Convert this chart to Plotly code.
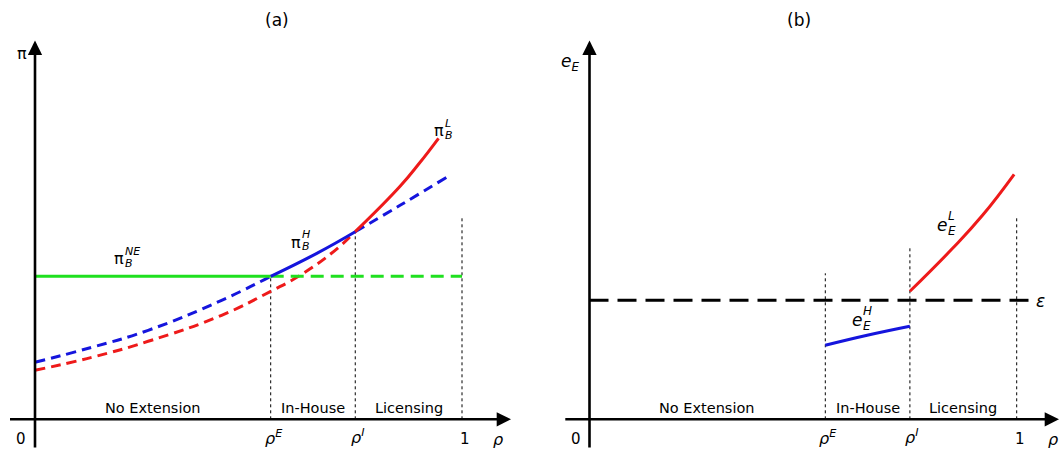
import plotly.graph_objects as go

# ---------------- data ----------------
rho_E = 0.552
rho_I = 0.75

# panel (a): profits of the incumbent
piH_x = [0.0, 0.133, 0.265, 0.437, 0.552, 0.66, 0.75, 0.855, 0.964]
piH_y = [0.57, 0.72, 0.89, 1.19, 1.43, 1.66, 1.876, 2.14, 2.42]
piL_x = [0.0, 0.133, 0.265, 0.437, 0.552, 0.617, 0.70, 0.75, 0.855, 0.90, 0.945]
piL_y = [0.49, 0.62, 0.78, 1.04, 1.28, 1.43, 1.68, 1.876, 2.33, 2.56, 2.81]
piNE_x = [0.0, 0.552, 1.0]
piNE_y = [1.43, 1.43, 1.43]

# panel (b): entrant effort
eps_x = [0.0, 1.03]
eps_y = [1.19, 1.19]
eH_x = [0.552, 0.65, 0.75]
eH_y = [0.74, 0.84, 0.93]
eL_x = [0.75, 0.85, 0.92, 0.994]
eL_y = [1.28, 1.71, 2.04, 2.45]

# vertical guides at rho_E, rho_I, 1
guide_x = [rho_E, rho_I, 1.0]
guide_top_a = [1.43, 1.88, 2.01]
guide_top_b = [1.46, 1.73, 2.01]

regions = ["No Extension", "In-House", "Licensing"]
region_bounds = [0.0, rho_E, rho_I, 1.0]

# ---------------- styling ----------------
GREEN = "#1fe01f"
BLUE = "#1515dd"
RED = "#ee1a1a"
FONT = "DejaVu Sans"
LW = 3


def Y(py):
    return (419.3 - py) / 100.0


def XA(px):
    return (px - 35) / 427.0


def XB(px):
    return (px - 589.5) / 427.2


def seg(xs, ys, lo, hi):
    pts = [(x, y) for x, y in zip(xs, ys) if lo - 1e-9 <= x <= hi + 1e-9]
    return [p[0] for p in pts], [p[1] for p in pts]


fig = go.Figure()


def add_line(xs, ys, color, dash, panel, width=LW, shape="spline"):
    xa, ya = ("x", "y") if panel == "a" else ("x2", "y2")
    fig.add_trace(go.Scatter(x=xs, y=ys, mode="lines", xaxis=xa, yaxis=ya,
                             line=dict(color=color, width=width, dash=dash, shape=shape,
                                       smoothing=1.3),
                             hoverinfo="skip", showlegend=False))


# guides
for gx, ta, tb in zip(guide_x, guide_top_a, guide_top_b):
    add_line([gx, gx], [0, ta], "black", "dot", "a", width=1, shape="linear")
    add_line([gx, gx], [0, tb], "black", "dot", "b", width=1, shape="linear")

# panel (a) dashed parts
x, y = seg(piL_x, piL_y, 0, rho_I)
add_line(x, y, RED, "10px,6px", "a")
x, y = seg(piH_x, piH_y, 0, rho_E)
add_line(x, y, BLUE, "10px,6px", "a")
x, y = seg(piH_x, piH_y, rho_I, 1.0)
add_line(x, y, BLUE, "10px,6px", "a")
x, y = seg(piNE_x, piNE_y, rho_E, 1.0)
add_line(x, y, GREEN, "13px,7px", "a", shape="linear")
# panel (a) solid parts
x, y = seg(piNE_x, piNE_y, 0, rho_E)
add_line(x, y, GREEN, "solid", "a", shape="linear")
x, y = seg(piH_x, piH_y, rho_E, rho_I)
add_line(x, y, BLUE, "solid", "a")
x, y = seg(piL_x, piL_y, rho_I, 1.0)
add_line(x, y, RED, "solid", "a")

# panel (b)
add_line(eps_x, eps_y, "black", "19px,9px", "b", shape="linear")
add_line(eH_x, eH_y, BLUE, "solid", "b")
add_line(eL_x, eL_y, RED, "solid", "b")

ann = []


def arrow(xr, yr, x0, y0, x1, y1):
    ann.append(dict(x=x1, y=y1, ax=x0, ay=y0, xref=xr, yref=yr, axref=xr, ayref=yr,
                    text="", showarrow=True, arrowhead=2, arrowsize=1.1, arrowwidth=2.6,
                    arrowcolor="black", standoff=0, startstandoff=0))


def text(xr, yr, x, y, t, size=14, xanchor="center", xshift=0, yshift=0):
    ann.append(dict(x=x, y=y, xref=xr, yref=yr, text=t, showarrow=False,
                    font=dict(family=FONT, size=size, color="black"),
                    xanchor=xanchor, yanchor="middle", xshift=xshift, yshift=yshift))


def scripted(xr, yr, x, y, base, sup, sub, bsize=16, ssize=11, dx=5, up=8, down=5):
    text(xr, yr, x, y, base, size=bsize)
    if sup:
        text(xr, yr, x, y, sup, size=ssize, xanchor="left", xshift=dx, yshift=up)
    if sub:
        text(xr, yr, x, y, sub, size=ssize, xanchor="left", xshift=dx, yshift=-down)


# axes
arrow("x", "y", XA(8.5), 0, XA(511), 0)
arrow("x", "y", 0, Y(449), 0, Y(40.6))
arrow("x2", "y2", XB(563.8), 0, XB(1059), 0)
arrow("x2", "y2", 0, Y(449), 0, Y(40.6))

# titles
text("x", "y", XA(277), Y(20), "(a)", size=17)
text("x2", "y2", XB(798.7), Y(20), "(b)", size=17)

# axis labels
text("x", "y", XA(22), Y(53), "π", size=16)
text("x2", "y2", XB(570), Y(62), "<i>e</i><sub><i>E</i></sub>", size=17)

for xr, yr, X in (("x", "y", XA), ("x2", "y2", XB)):
    # region names
    for i, name in enumerate(regions):
        mid = (region_bounds[i] + region_bounds[i + 1]) / 2
        text(xr, yr, mid, Y(408), name, size=14.5)
    # tick-like labels
    text(xr, yr, 0, Y(439), "0", size=15, xshift=-14)
    text(xr, yr, 1.0, Y(439), "1", size=15, xshift=3)
    text(xr, yr, 1.0, Y(439), "<i>ρ</i>", size=16, xshift=36)
    text(xr, yr, rho_E, Y(437), "<i>ρ</i><sup><i>E</i></sup>", size=16, xshift=3)
    text(xr, yr, rho_I, Y(436), "<i>ρ</i><sup><i>I</i></sup>", size=16, xshift=2)

# curve labels, panel (a)
scripted("x", "y", XA(439), Y(130), "π", "<i>L</i>", "<i>B</i>", dx=4, up=7, down=5)
scripted("x", "y", XA(296), Y(242), "π", "<i>H</i>", "<i>B</i>", dx=4, up=8, down=4)
scripted("x", "y", XA(119), Y(258), "π", "<i>NE</i>", "<i>B</i>", dx=4, up=7, down=5)

# curve labels, panel (b)
scripted("x2", "y2", XB(942), Y(225), "<i>e</i>", "<i>L</i>", "<i>E</i>", bsize=17, ssize=12, dx=4, up=9, down=6)
scripted("x2", "y2", XB(857), Y(320), "<i>e</i>", "<i>H</i>", "<i>E</i>", bsize=17, ssize=12, dx=4, up=9, down=6)
text("x2", "y2", XB(1040), Y(301), "<i>ε</i>", size=17)

fig.update_layout(
    width=1060, height=449,
    margin=dict(l=0, r=0, t=0, b=0),
    paper_bgcolor="white", plot_bgcolor="white",
    showlegend=False,
    xaxis=dict(domain=[0, 0.5], range=[XA(0), XA(530)], visible=False, fixedrange=True),
    yaxis=dict(domain=[0, 1], range=[Y(449), Y(0)], visible=False, fixedrange=True),
    xaxis2=dict(domain=[0.5, 1], range=[XB(530), XB(1060)], visible=False, anchor="y2", fixedrange=True),
    yaxis2=dict(domain=[0, 1], range=[Y(449), Y(0)], visible=False, anchor="x2", fixedrange=True),
    annotations=ann,
)

fig.write_html("out.html", config={"displayModeBar": False},
               post_script="document.body.style.margin='0';document.body.style.overflow='hidden';")
